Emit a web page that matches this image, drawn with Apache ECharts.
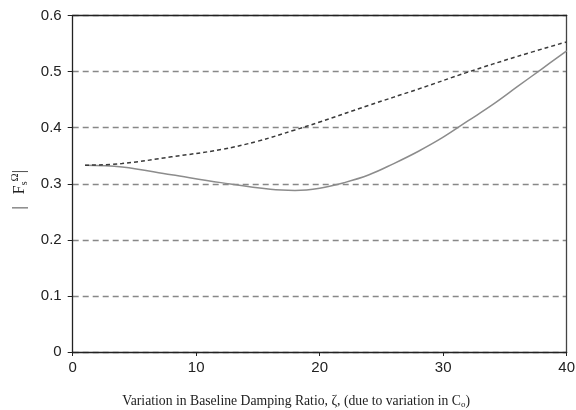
<!DOCTYPE html>
<html>
<head>
<meta charset="utf-8">
<script src="https://cdn.jsdelivr.net/npm/echarts@6/dist/echarts.min.js"></script>
<style>html,body{margin:0;padding:0;background:#fff;overflow:hidden;}#c{width:576px;height:410px;}</style>
</head>
<body>
<div id="c"></div>
<script>
// Solid (gray) curve: [zeta, |Fs^Omega|]
const solidZeta = [1, 4, 8, 12, 16, 18, 20, 22, 24, 26, 28, 30, 32, 34, 36, 38, 40];
const solidVals = [0.333, 0.330, 0.316, 0.302, 0.290, 0.288, 0.292, 0.302, 0.316, 0.336, 0.358, 0.383, 0.412, 0.441, 0.473, 0.505, 0.537];
// Dashed (dark) curve
const dashZeta = [1, 4, 8, 12, 15, 18, 20, 24, 28, 32, 36, 40];
const dashVals = [0.333, 0.336, 0.348, 0.361, 0.376, 0.396, 0.410, 0.440, 0.469, 0.499, 0.527, 0.553];
const xTicks = [0, 10, 20, 30, 40];
const yTicks = [0, 0.1, 0.2, 0.3, 0.4, 0.5, 0.6];
const xTitle = 'Variation in Baseline Damping Ratio, ζ, (due to variation in C{sub|o})';
const yTitle = '{t||   F}{sub|s}{sup|Ω}{t||}';

const chart = echarts.init(document.getElementById('c'), null, {renderer: 'canvas'});
const pairs = (xs, ys) => xs.map((x, i) => [x, ys[i]]);
const xMin = xTicks[0], xMax = xTicks[xTicks.length - 1];
const yMin = yTicks[0], yMax = yTicks[yTicks.length - 1];
chart.setOption({
  animation: false,
  backgroundColor: '#fff',
  grid: {left: 72.7, right: 9.3, top: 15.5, bottom: 58, show: false, outerBoundsMode: 'none', containLabel: false},
  xAxis: [{
    type: 'value', min: xMin, max: xMax, interval: 10,
    name: xTitle, nameLocation: 'middle', nameGap: 42,
    nameTextStyle: {fontFamily: 'Liberation Serif', fontSize: 13.7, color: '#222', padding: [0, 47, 0, 0],
      rich: {sub: {fontFamily: 'Liberation Serif', fontSize: 9, color: '#222', padding: [6, 0, 0, 0]}}},
    axisLine: {lineStyle: {color: '#222', width: 1.3}},
    axisTick: {show: true, length: 4, lineStyle: {color: '#222'}},
    axisLabel: {fontFamily: 'Liberation Sans', fontSize: 15, color: '#222', margin: 8},
    splitLine: {show: false}, z: 5
  }, {
    type: 'value', min: xMin, max: xMax, position: 'top', z: 5,
    axisLine: {show: true, onZero: false, lineStyle: {color: '#222', width: 1.3}},
    axisTick: {show: false}, axisLabel: {show: false}, splitLine: {show: false}
  }],
  yAxis: [{
    type: 'value', min: yMin, max: yMax, interval: 0.1,
    name: yTitle, nameLocation: 'middle', nameGap: 42, nameRotate: 90,
    nameTextStyle: {fontFamily: 'Liberation Serif', fontSize: 16, color: '#222', padding: [0, 12, 0, 0],
      rich: {
        t: {fontFamily: 'Liberation Serif', fontSize: 16, color: '#222'},
        sub: {fontFamily: 'Liberation Serif', fontSize: 10, color: '#222', padding: [8, 0, 0, 0]},
        sup: {fontFamily: 'Liberation Serif', fontSize: 11, color: '#222', padding: [0, 0, 10, 0]}
      }},
    axisLine: {show: true, lineStyle: {color: '#222', width: 1.3}},
    axisTick: {show: true, length: 5, lineStyle: {color: '#222'}},
    axisLabel: {fontFamily: 'Liberation Sans', fontSize: 15, color: '#222', margin: 11,
      formatter: v => String(Math.round(v * 10) / 10)},
    splitLine: {show: true, lineStyle: {color: '#888', width: 1.3, type: [6, 4]}}, z: 5
  }, {
    type: 'value', min: yMin, max: yMax, position: 'right', z: 5,
    axisLine: {show: true, onZero: false, lineStyle: {color: '#444', width: 1.3}},
    axisTick: {show: false}, axisLabel: {show: false}, splitLine: {show: false}
  }],
  series: [
    {type: 'line', data: pairs(solidZeta, solidVals), smooth: 0.4, showSymbol: false, symbol: 'none',
      lineStyle: {color: '#8c8c8c', width: 1.5}, z: 6},
    {type: 'line', data: pairs(dashZeta, dashVals), smooth: 0.4, showSymbol: false, symbol: 'none',
      lineStyle: {color: '#3a3a3a', width: 1.5, type: [4, 3]}, z: 6}
  ]
});
</script>
</body>
</html>
